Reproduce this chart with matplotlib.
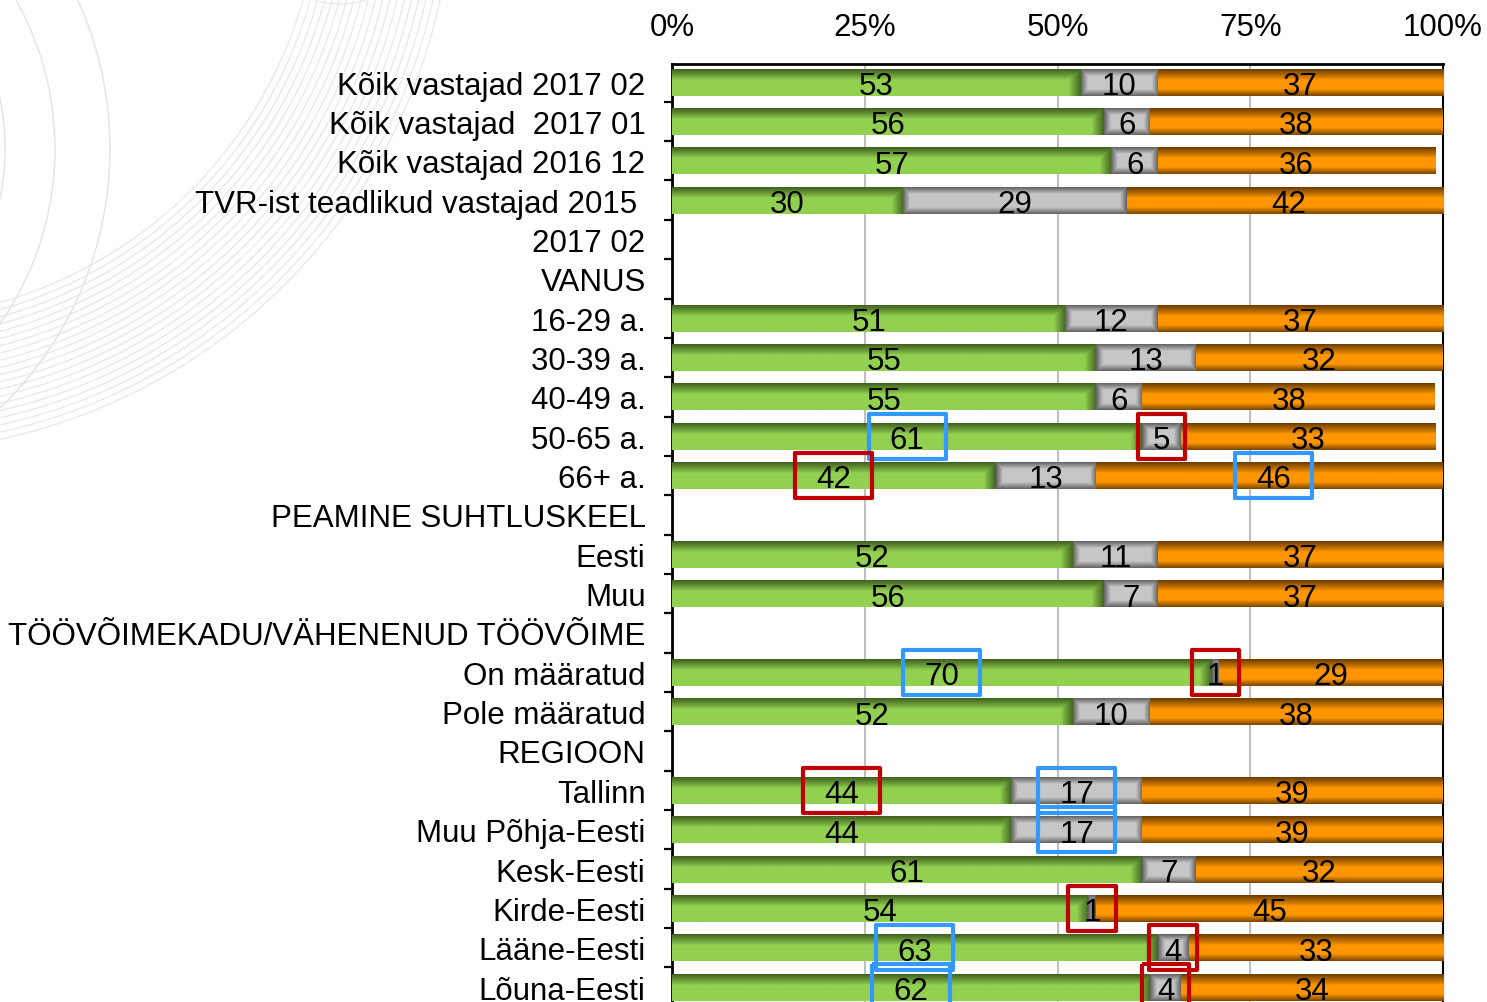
import numpy as np
import matplotlib
matplotlib.use("Agg")
import matplotlib.pyplot as plt
from matplotlib.patches import Rectangle, Arc

plt.rcParams["font.family"] = ["Liberation Sans", "DejaVu Sans"]

# ---- data -------------------------------------------------------------
categories = [
    "Kõik vastajad 2017 02",
    "Kõik vastajad  2017 01",
    "Kõik vastajad 2016 12",
    "TVR-ist teadlikud vastajad 2015 ",
    "2017 02",
    "VANUS",
    "16-29 a.",
    "30-39 a.",
    "40-49 a.",
    "50-65 a.",
    "66+ a.",
    "PEAMINE SUHTLUSKEEL",
    "Eesti",
    "Muu",
    "TÖÖVÕIMEKADU/VÄHENENUD TÖÖVÕIME",
    "On määratud",
    "Pole määratud",
    "REGIOON",
    "Tallinn",
    "Muu Põhja-Eesti",
    "Kesk-Eesti",
    "Kirde-Eesti",
    "Lääne-Eesti",
    "Lõuna-Eesti",
]
nan = np.nan
positive = [53, 56, 57, 30, nan, nan, 51, 55, 55, 61, 42, nan, 52, 56, nan,
            70, 52, nan, 44, 44, 61, 54, 63, 62]
neutral = [10, 6, 6, 29, nan, nan, 12, 13, 6, 5, 13, nan, 11, 7, nan,
           1, 10, nan, 17, 17, 7, 1, 4, 4]
negative = [37, 38, 36, 42, nan, nan, 37, 32, 38, 33, 46, nan, 37, 37, nan,
            29, 38, nan, 39, 39, 32, 45, 33, 34]
x_ticks = [0, 25, 50, 75, 100]
x_tick_labels = ["0%", "25%", "50%", "75%", "100%"]

# highlighted values: (category, series index, frame colour)
highlights = [
    ("50-65 a.", 0, "#3399FF"), ("50-65 a.", 1, "#C00000"),
    ("66+ a.", 0, "#C00000"), ("66+ a.", 2, "#3399FF"),
    ("On määratud", 0, "#3399FF"), ("On määratud", 1, "#C00000"),
    ("Tallinn", 0, "#C00000"), ("Tallinn", 1, "#3399FF"),
    ("Muu Põhja-Eesti", 1, "#3399FF"),
    ("Kirde-Eesti", 1, "#C00000"),
    ("Lääne-Eesti", 0, "#3399FF"), ("Lääne-Eesti", 1, "#C00000"),
    ("Lõuna-Eesti", 0, "#3399FF"), ("Lõuna-Eesti", 1, "#C00000"),
]

FS = 22.5

# ---- figure -------------------------------------------------------------
W, H = 1487, 1003
fig = plt.figure(figsize=(W / 100, H / 100), dpi=100, facecolor="white")

# faint decorative arcs in the background
bg = fig.add_axes([0, 0, 1, 1], zorder=0)
bg.set_xlim(0, W)
bg.set_ylim(H, 0)
bg.axis("off")
for r in np.arange(440, 575, 7):
    bg.add_patch(Arc((-120, -120), 2 * r, 2 * r, color="#e7eaef", lw=1.0))
for r in (255, 305, 360):
    bg.add_patch(Arc((-250, 150), 2 * r, 2 * r, color="#e2e6eb", lw=1.1))
for r in (60, 85):
    bg.add_patch(Arc((340, -80), 2 * r, 2 * r, color="#e7eaef", lw=1.0))

left, right, top = 672 / W, 1443 / W, 65 / H
ax = fig.add_axes([left, 0, right - left, 1 - top], zorder=2)
ax.set_facecolor("white")

px_per_x = (1443 - 672) / 100.0
row_px = 39.35
bar_h = 0.686
bar_px = bar_h * row_px


def shade(kind, wpx, hpx):
    nx = max(int(round(wpx)), 2)
    ny = max(int(round(hpx)), 2)
    X, Y = np.meshgrid(np.arange(nx) + 0.5, np.arange(ny) + 0.5)
    dl, dr, dt, db = X, nx - X, Y, ny - Y

    def edge(d, width, p=1.0):
        return np.clip(1 - d / width, 0, 1) ** p

    if kind == 0:
        base = np.array([146, 208, 80]) / 255
        dark = np.array([62, 95, 30]) / 255
        d = np.maximum(edge(dt, 11, 0.9), 0.95 * edge(dr, 12, 0.9))
    elif kind == 1:
        base = np.array([198, 198, 198]) / 255
        dark = np.array([95, 95, 95]) / 255
        d = np.maximum.reduce([edge(dl, 7), edge(dr, 7), edge(dt, 7), edge(db, 7)])
    else:
        base = np.array([255, 150, 0]) / 255
        dark = np.array([105, 60, 0]) / 255
        d = np.maximum(edge(dt, 11, 0.9), 0.9 * edge(db, 7, 0.9))
    img = base * (1 - d[..., None]) + dark * d[..., None]
    return img


base_colors = ["#92D050", "#C6C6C6", "#FF9600"]
series = [positive, neutral, negative]
ypos = np.arange(len(categories))
label_pos = {}

for i, cat in enumerate(categories):
    start = 0.0
    for k, vals in enumerate(series):
        v = vals[i]
        if np.isnan(v):
            continue
        ax.barh(i, v, left=start, height=bar_h, color=base_colors[k],
                edgecolor="none", zorder=2)
        ax.imshow(shade(k, v * px_per_x, bar_px),
                  extent=(start, start + v, i + bar_h / 2, i - bar_h / 2),
                  origin="upper", aspect="auto", interpolation="bilinear",
                  zorder=3)
        cx = start + v / 2
        ax.text(cx, i + 0.1, f"{v:g}", ha="center", va="center",
                fontsize=FS, color="black", zorder=5, clip_on=False)
        label_pos[(cat, k)] = (cx, v)
        start += v

for cat, k, col in highlights:
    cx, v = label_pos[(cat, k)]
    i = categories.index(cat)
    w = 10.0 if v >= 10 else 6.2
    h = 1.15
    ax.add_patch(Rectangle((cx - w / 2, i - h / 2), w, h, fill=False,
                           edgecolor=col, lw=3.0, joinstyle="round",
                           zorder=6, clip_on=False))

ax.set_xlim(0, 100)
ax.set_ylim(23.38, -0.46)

ax.xaxis.tick_top()
ax.set_xticks(x_ticks)
ax.set_xticklabels(x_tick_labels, fontsize=FS)
ax.tick_params(axis="x", length=0, pad=16)
ax.xaxis.grid(True, color="#BFBFBF", lw=1.5, zorder=0)
ax.set_axisbelow(True)

ax.set_yticks(ypos)
ax.set_yticklabels(categories, fontsize=FS)
ax.set_yticks(ypos[:-1] + 0.5, minor=True)
ax.tick_params(axis="y", which="major", length=0, pad=19)
ax.tick_params(axis="y", which="minor", length=6, width=1.6, color="black",
               direction="out")

for s in ("top", "left"):
    ax.spines[s].set_linewidth(2.0)
    ax.spines[s].set_color("black")
ax.spines["right"].set_linewidth(1.5)
ax.spines["right"].set_color("black")
ax.spines["bottom"].set_visible(False)

fig.savefig("out.png", dpi=100, facecolor="white")
